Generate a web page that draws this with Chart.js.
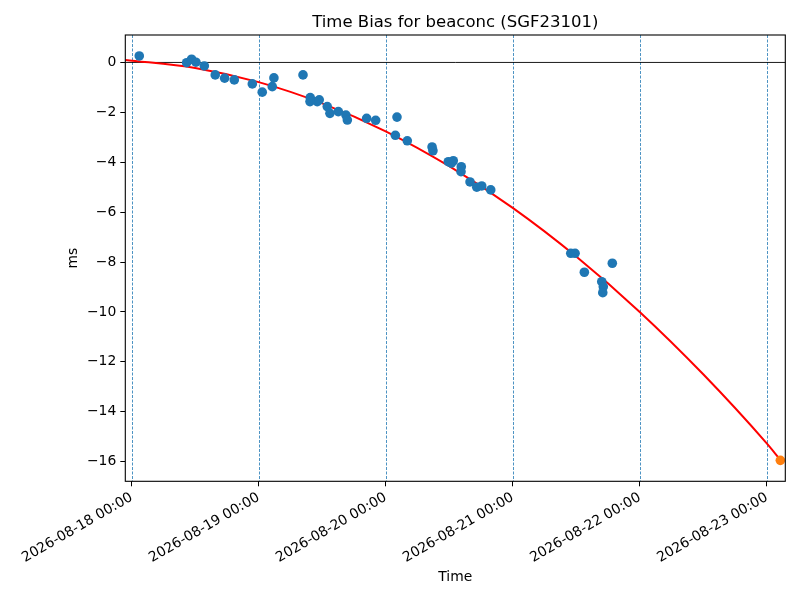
<!DOCTYPE html>
<html>
<head>
<meta charset="utf-8">
<script src="https://cdn.jsdelivr.net/npm/chart.js"></script>
<style>
body { margin: 0; background: #fff; }
#wrap { width: 800px; height: 600px; }
</style>
</head>
<body>
<div id="wrap"><canvas id="myChart" width="800" height="600"></canvas></div>
<script>
// x values are days after 2026-08-18 00:00, y values in ms
var biasDays = [0.060, 0.433, 0.472, 0.506, 0.572, 0.658, 0.732, 0.808, 0.950, 1.028,
  1.107, 1.120, 1.349, 1.406, 1.404, 1.461, 1.477, 1.540, 1.561, 1.627,
  1.687, 1.698, 1.850, 1.921, 2.089, 2.076, 2.170, 2.365, 2.372, 2.493,
  2.532, 2.517, 2.595, 2.593, 2.664, 2.717, 2.756, 2.827, 3.457, 3.491,
  3.564, 3.784, 3.701, 3.713, 3.709];
var biasMs = [0.26, -0.01, 0.13, 0.01, -0.14, -0.50, -0.63, -0.70, -0.86, -1.19,
  -0.97, -0.62, -0.50, -1.41, -1.57, -1.57, -1.50, -1.77, -2.04, -1.97,
  -2.11, -2.31, -2.24, -2.32, -2.19, -2.92, -3.14, -3.39, -3.54, -3.98,
  -3.94, -4.04, -4.18, -4.38, -4.79, -5.00, -4.95, -5.11, -7.65, -7.65,
  -8.41, -8.05, -8.79, -8.99, -9.23];

var fitDays = [-0.05, 0.5, 1, 1.5, 2, 2.5, 3, 3.5, 4, 4.5, 5, 5.107];
var fitMs = [0.10, -0.22, -0.79, -1.64, -2.76, -4.16, -5.83, -7.78, -10.0, -12.5, -15.27, -15.93];

var predDay = [5.107];
var predMs = [-15.95];

var xTicks = [0, 1, 2, 3, 4, 5];
var xTickLabels = ['2026-08-18 00:00', '2026-08-19 00:00', '2026-08-20 00:00',
  '2026-08-21 00:00', '2026-08-22 00:00', '2026-08-23 00:00'];
var yTicks = [0, -2, -4, -6, -8, -10, -12, -14, -16];

function toPoints(xs, ys) {
  return xs.map(function(x, i) { return { x: x, y: ys[i] }; });
}

Chart.defaults.font.family = 'DejaVu Sans';
Chart.defaults.color = '#000';

var extras = {
  id: 'extras',
  beforeDatasetsDraw: function(chart) {
    var c = chart.ctx, a = chart.chartArea;
    var xs = chart.scales.x, ys = chart.scales.y;
    c.save();
    // dashed vertical grid
    c.strokeStyle = '#1f77b4';
    c.lineWidth = 0.8;
    c.setLineDash([3, 1.5]);
    xTicks.forEach(function(v) {
      var px = Math.round(xs.getPixelForValue(v)) + 0.5;
      c.beginPath(); c.moveTo(px, a.top); c.lineTo(px, a.bottom); c.stroke();
    });
    // zero line
    c.setLineDash([]);
    c.strokeStyle = '#000';
    c.lineWidth = 0.9;
    var py = ys.getPixelForValue(0);
    c.beginPath(); c.moveTo(a.left, py); c.lineTo(a.right, py); c.stroke();
    c.restore();
  },
  afterDraw: function(chart) {
    var c = chart.ctx, a = chart.chartArea;
    c.save();
    c.strokeStyle = '#000';
    c.lineWidth = 1.1;
    c.strokeRect(a.left, a.top, a.right - a.left, a.bottom - a.top);
    c.fillStyle = '#000';
    c.textAlign = 'center';
    c.textBaseline = 'alphabetic';
    c.font = '16.5px "DejaVu Sans"';
    c.fillText('Time Bias for beaconc (SGF23101)', (a.left + a.right) / 2, 27);
    c.font = '13.9px "DejaVu Sans"';
    c.textBaseline = 'middle';
    c.fillText('Time', (a.left + a.right) / 2, 577);
    c.translate(73, (a.top + a.bottom) / 2);
    c.rotate(-Math.PI / 2);
    c.fillText('ms', 0, 0);
    c.restore();
  }
};

var ctx = document.getElementById('myChart').getContext('2d');
new Chart(ctx, {
  type: 'scatter',
  data: {
    datasets: [{
      type: 'line',
      data: toPoints(fitDays, fitMs),
      borderColor: 'red',
      borderWidth: 2,
      pointRadius: 0,
      tension: 0.4,
      cubicInterpolationMode: 'monotone',
      order: 2
    }, {
      data: toPoints(biasDays, biasMs),
      backgroundColor: '#1f77b4',
      borderColor: '#1f77b4',
      borderWidth: 0,
      pointRadius: 4.8,
      order: 1
    }, {
      data: toPoints(predDay, predMs),
      backgroundColor: '#ff7f0e',
      borderColor: '#ff7f0e',
      borderWidth: 0,
      pointRadius: 4.8,
      order: 0
    }]
  },
  options: {
    responsive: false,
    animation: false,
    layout: { padding: { left: 0, right: 14.7, top: 35, bottom: 0 } },
    plugins: { legend: { display: false }, tooltip: { enabled: false }, title: { display: false } },
    scales: {
      x: {
        type: 'linear',
        min: -0.05,
        max: 5.146,
        afterFit: function(s) { s.height = 118.7; },
        afterBuildTicks: function(s) { s.ticks = xTicks.map(function(v) { return { value: v }; }); },
        grid: { drawOnChartArea: false, color: '#000', tickLength: 5, lineWidth: 1 },
        border: { display: false },
        ticks: {
          autoSkip: false,
          minRotation: 30,
          maxRotation: 30,
          padding: 3,
          font: { size: 13.9 },
          callback: function(v) { return xTickLabels[xTicks.indexOf(v)]; }
        }
      },
      y: {
        min: -16.79,
        max: 1.10,
        afterFit: function(s) { s.width = 125.3; },
        afterBuildTicks: function(s) { s.ticks = yTicks.map(function(v) { return { value: v }; }); },
        grid: { drawOnChartArea: false, color: '#000', tickLength: 5, lineWidth: 1 },
        border: { display: false },
        ticks: {
          padding: 4,
          font: { size: 13.9 },
          callback: function(v) { return v < 0 ? '\u2212' + Math.abs(v) : String(v); }
        }
      }
    }
  },
  plugins: [extras]
});
</script>
</body>
</html>
